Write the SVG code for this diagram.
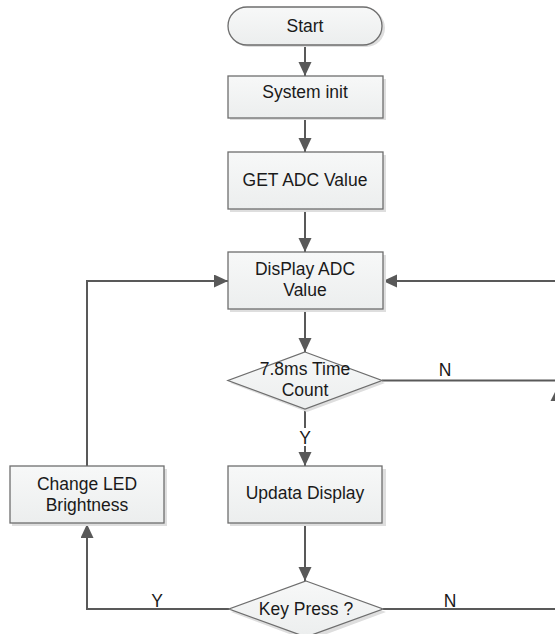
<svg xmlns="http://www.w3.org/2000/svg" width="555" height="634" viewBox="0 0 555 634">
<defs>
<linearGradient id="g" x1="0" y1="0" x2="0" y2="1">
<stop offset="0" stop-color="#f7f8f8"/>
<stop offset="1" stop-color="#eceeee"/>
</linearGradient>
<marker id="ah" markerUnits="userSpaceOnUse" markerWidth="15" markerHeight="14" refX="14" refY="6.5" orient="auto">
<path d="M0,0 L14,6.5 L0,13 z" fill="#595959"/>
</marker>
</defs>
<style>
.shape{fill:url(#g);stroke:#6e6e6e;stroke-width:1.3}
.shadow{fill:#dedede;stroke:none}
.t{font-family:"Liberation Sans",Arial,sans-serif;font-size:17.5px;fill:#1a1a1a;text-anchor:middle}
.c{fill:none;stroke:#595959;stroke-width:2}
</style>
<rect width="555" height="634" fill="#ffffff"/>

<g id="connectors">
<line class="c" x1="305" y1="45" x2="305" y2="76" marker-end="url(#ah)"/>
<line class="c" x1="305" y1="118" x2="305" y2="152" marker-end="url(#ah)"/>
<line class="c" x1="305" y1="209" x2="305" y2="252" marker-end="url(#ah)"/>
<line class="c" x1="305" y1="309" x2="305" y2="352" marker-end="url(#ah)"/>
<line class="c" x1="305" y1="409" x2="305" y2="428"/>
<line class="c" x1="305" y1="446" x2="305" y2="466" marker-end="url(#ah)"/>
<line class="c" x1="305" y1="523" x2="305" y2="581" marker-end="url(#ah)"/>
<polyline class="c" points="229,609 87,609 87,524" marker-end="url(#ah)"/>
<polyline class="c" points="87,466 87,281 228,281" marker-end="url(#ah)"/>
<line class="c" x1="560" y1="281" x2="383" y2="281" marker-end="url(#ah)"/>
<line class="c" x1="382" y1="380.5" x2="560" y2="380.5"/>
<line class="c" x1="383" y1="609" x2="560" y2="609"/>
<path d="M557,388 L563.5,401 L550.5,401 z" fill="#595959"/>
<text class="t" x="445" y="376">N</text>
<text class="t" x="305" y="444">Y</text>
<text class="t" x="157" y="607">Y</text>
<text class="t" x="450" y="607">N</text>
</g>

<g id="start">
<rect class="shadow" x="230" y="9" width="155" height="38" rx="19"/>
<rect class="shape" x="228" y="7" width="154" height="38" rx="19"/>
<text class="t" x="305" y="32">Start</text>
</g>

<g id="system-init">
<rect class="shadow" x="230" y="79" width="156" height="41"/>
<rect class="shape" x="228" y="76" width="155" height="42"/>
<text class="t" x="305" y="98">System init</text>
</g>

<g id="get-adc">
<rect class="shadow" x="230" y="155" width="156" height="57"/>
<rect class="shape" x="228" y="152" width="155" height="57"/>
<text class="t" x="305" y="186">GET ADC Value</text>
</g>

<g id="display-adc">
<rect class="shadow" x="230" y="255" width="156" height="57"/>
<rect class="shape" x="228" y="252" width="155" height="57"/>
<text class="t" x="305" y="275">DisPlay ADC</text>
<text class="t" x="305" y="296">Value</text>
</g>

<g id="time-count">
<polygon class="shadow" points="307,354 385,383 307,412 230,383"/>
<polygon class="shape" points="305,352 382,380.5 305,409 228,380.5"/>
<text class="t" x="305" y="375">7.8ms Time</text>
<text class="t" x="305" y="396">Count</text>
</g>

<g id="update-display">
<rect class="shadow" x="230" y="469" width="156" height="57"/>
<rect class="shape" x="228" y="466" width="154" height="57"/>
<text class="t" x="305" y="499">Updata Display</text>
</g>

<g id="change-led">
<rect class="shadow" x="12" y="469" width="155" height="57"/>
<rect class="shape" x="10" y="466" width="154" height="57"/>
<text class="t" x="87" y="490">Change LED</text>
<text class="t" x="87" y="511">Brightness</text>
</g>

<g id="key-press">
<polygon class="shadow" points="308,583 386,612 308,641 231,612"/>
<polygon class="shape" points="306,581 383,609 306,637 229,609"/>
<text class="t" x="306" y="615">Key Press ?</text>
</g>
</svg>
